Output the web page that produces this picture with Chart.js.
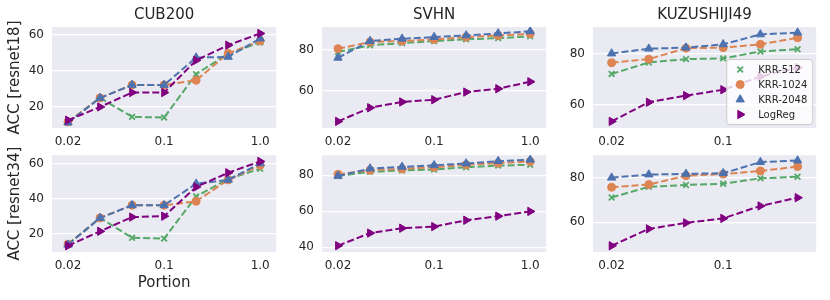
<!DOCTYPE html>
<html><head><meta charset="utf-8">
<script src="https://cdn.jsdelivr.net/npm/chart.js@4/dist/chart.umd.min.js"></script>
<style>
html,body{margin:0;padding:0;background:#fff;}
#wrap{position:relative;width:830px;height:300px;overflow:hidden;background:#fff;}
#wrap canvas{position:absolute;}
</style></head><body><div id="wrap"></div>
<script>
// ---------------- data ----------------
const portions = ['0.02', '0.03', '0.05', '0.1', '0.2', '0.5', '1.0'];
const xTickLabels = ['0.02', '0.1', '1.0'];
const seriesNames = ['KRR-512', 'KRR-1024', 'KRR-2048', 'LogReg'];
const datasetNames = ['CUB200', 'SVHN', 'KUZUSHIJI49'];
const rowLabels = ['ACC [resnet18]', 'ACC [resnet34]'];
const xLabel = 'Portion';

// CUB200
const cub18_krr512  = [11.5, 24.8, 14.3, 13.9, 38.0, 49.4, 55.6];
const cub18_krr1024 = [11.5, 24.8, 32.0, 32.0, 34.6, 49.5, 56.5];
const cub18_krr2048 = [11.1, 24.8, 32.0, 32.0, 47.2, 47.6, 57.8];
const cub18_logreg  = [12.4, 19.8, 27.8, 27.8, 45.7, 54.1, 60.6];
const cub34_krr512  = [14.0, 29.0, 17.6, 17.1, 41.4, 51.4, 57.3];
const cub34_krr1024 = [13.8, 29.0, 36.3, 36.3, 38.6, 50.9, 59.3];
const cub34_krr2048 = [13.6, 29.0, 36.3, 36.3, 48.7, 50.9, 60.4];
const cub34_logreg  = [13.0, 21.3, 29.5, 30.0, 46.8, 55.0, 61.5];
// SVHN
const svhn18_krr512  = [78.9, 82.1, 83.2, 84.2, 85.0, 85.6, 86.5];
const svhn18_krr1024 = [80.5, 83.7, 84.2, 85.0, 86.1, 86.9, 87.7];
const svhn18_krr2048 = [76.1, 84.2, 85.3, 86.1, 86.9, 87.9, 88.9];
const svhn18_logreg  = [45.3, 51.9, 54.7, 55.8, 59.5, 61.1, 64.5];
const svhn34_krr512  = [79.6, 81.9, 82.6, 83.2, 84.4, 85.3, 85.8];
const svhn34_krr1024 = [80.5, 82.8, 83.5, 84.4, 85.8, 86.7, 87.6];
const svhn34_krr2048 = [79.6, 83.7, 84.6, 85.5, 86.5, 87.8, 88.6];
const svhn34_logreg  = [40.9, 47.9, 50.6, 51.5, 55.0, 57.3, 59.9];
// KUZUSHIJI49
const kuz18_krr512  = [72.0, 76.5, 77.8, 78.1, 80.8, 81.7];
const kuz18_krr1024 = [76.4, 77.8, 82.1, 82.3, 83.6, 86.2];
const kuz18_krr2048 = [80.0, 81.9, 82.3, 83.6, 87.5, 88.2];
const kuz18_logreg  = [53.4, 60.9, 63.5, 65.8, 71.0, 74.5];
const kuz34_krr512  = [71.1, 75.9, 76.7, 77.3, 79.7, 80.4];
const kuz34_krr1024 = [75.7, 76.9, 80.9, 81.6, 83.0, 85.0];
const kuz34_krr2048 = [80.0, 81.4, 81.7, 82.0, 87.0, 87.7];
const kuz34_logreg  = [49.4, 57.0, 59.7, 61.7, 67.3, 71.0];

// y tick values per panel
const cubTicks = [20, 40, 60];
const svhn18Ticks = [60, 80];
const svhn34Ticks = [40, 60, 80];
const kuzTicks = [60, 80];

// ---------------- styling / layout ----------------
const FONT = "'DejaVu Sans', sans-serif";
const TEXT = '#262626';
const styles = [
  {color: '#55A868', pointStyle: 'crossRot', radius: 4, bw: 1.8, rot: 0, order: 3},
  {color: '#DD8452', pointStyle: 'circle',   radius: 4, bw: 1,   rot: 0, order: 2},
  {color: '#4C72B0', pointStyle: 'triangle', radius: 4.8, bw: 1, rot: 0, order: 1},
  {color: '#800080', pointStyle: 'triangle', radius: 4.8, bw: 1, rot: 90, order: 0}
];

const cols = [
  {left: 0,   axisW: 52, plotW: 225, nPts: 7},
  {left: 282, axisW: 40, plotW: 225, nPts: 7},
  {left: 553, axisW: 40, plotW: 224, nPts: 6}
];
const rows = [
  {top: 0,   padTop: 27, plotH: 101, axisH: 22},
  {top: 140, padTop: 10, plotH: 102, axisH: 48}
];

const panels = [
  {r:0, c:0, data:[cub18_krr512, cub18_krr1024, cub18_krr2048, cub18_logreg], min:8.1, max:64.2, ticks:cubTicks},
  {r:0, c:1, data:[svhn18_krr512, svhn18_krr1024, svhn18_krr2048, svhn18_logreg], min:42.1, max:91.0, ticks:svhn18Ticks},
  {r:0, c:2, data:[kuz18_krr512, kuz18_krr1024, kuz18_krr2048, kuz18_logreg], min:50.8, max:90.4, ticks:kuzTicks, legend:true},
  {r:1, c:0, data:[cub34_krr512, cub34_krr1024, cub34_krr2048, cub34_logreg], min:9.4, max:65.1, ticks:cubTicks},
  {r:1, c:1, data:[svhn34_krr512, svhn34_krr1024, svhn34_krr2048, svhn34_logreg], min:37.4, max:91.1, ticks:svhn34Ticks},
  {r:1, c:2, data:[kuz34_krr512, kuz34_krr1024, kuz34_krr2048, kuz34_logreg], min:46.6, max:90.1, ticks:kuzTicks}
];

const bgPlugin = {
  id: 'bg',
  beforeDraw(chart) {
    const a = chart.chartArea, ctx = chart.ctx;
    ctx.save(); ctx.fillStyle = '#EAEAF2';
    ctx.fillRect(a.left, a.top, a.right - a.left, a.bottom - a.top);
    ctx.restore();
  }
};

const titlePlugin = {
  id: 'ptitle',
  afterDraw(chart, args, opts) {
    if (!opts || !opts.text) return;
    const a = chart.chartArea, ctx = chart.ctx;
    ctx.save();
    ctx.font = '15px ' + FONT; ctx.fillStyle = TEXT;
    ctx.textAlign = 'center'; ctx.textBaseline = 'middle';
    ctx.fillText(opts.text, (a.left + a.right) / 2, 15);
    ctx.restore();
  }
};

const legendPlugin = {
  id: 'plegend',
  afterDraw(chart, args, opts) {
    if (!opts || !opts.show) return;
    const a = chart.chartArea, ctx = chart.ctx;
    const w = 86, h = 65;
    const x0 = a.right - 4 - w, y0 = a.bottom - 4 - h;
    ctx.save();
    ctx.beginPath();
    if (ctx.roundRect) ctx.roundRect(x0 + 0.5, y0 + 0.5, w, h, 3); else ctx.rect(x0 + 0.5, y0 + 0.5, w, h);
    ctx.fillStyle = 'rgba(234,234,242,0.8)';
    ctx.fillStyle = 'rgba(255,255,255,0.8)';
    ctx.fill();
    ctx.strokeStyle = '#cccccc'; ctx.lineWidth = 1; ctx.stroke();
    ctx.font = '10px ' + FONT; ctx.textAlign = 'left'; ctx.textBaseline = 'middle';
    seriesNames.forEach((name, i) => {
      const s = styles[i];
      const cy = y0 + 10.5 + i * 15;
      ctx.fillStyle = s.color; ctx.strokeStyle = s.color; ctx.lineWidth = s.bw;
      Chart.helpers.drawPoint(ctx, {pointStyle: s.pointStyle, radius: s.radius, rotation: s.rot, borderWidth: s.bw}, x0 + 14, cy);
      ctx.fillStyle = TEXT;
      ctx.fillText(name, x0 + 32, cy + 0.5);
    });
    ctx.restore();
  }
};

const wrap = document.getElementById('wrap');
panels.forEach(p => {
  const col = cols[p.c], row = rows[p.r];
  const padRight = 5;
  const W = col.axisW + col.plotW + padRight;
  const H = row.padTop + row.plotH + row.axisH;
  const cv = document.createElement('canvas');
  cv.width = W; cv.height = H;
  cv.style.left = col.left + 'px'; cv.style.top = row.top + 'px';
  cv.style.width = W + 'px'; cv.style.height = H + 'px';
  wrap.appendChild(cv);
  const labels = portions.slice(0, col.nPts);
  new Chart(cv, {
    type: 'line',
    data: {
      labels: labels,
      datasets: seriesNames.map((name, i) => ({
        label: name,
        data: p.data[i],
        borderColor: styles[i].color,
        backgroundColor: styles[i].color,
        borderWidth: 2,
        borderDash: [7, 3],
        pointStyle: styles[i].pointStyle,
        pointRadius: styles[i].radius,
        pointBorderWidth: styles[i].bw,
        pointRotation: styles[i].rot,
        pointBackgroundColor: styles[i].color,
        pointBorderColor: styles[i].color,
        fill: false,
        tension: 0,
        order: styles[i].order
      }))
    },
    options: {
      responsive: false,
      animation: false,
      devicePixelRatio: 1,
      layout: {padding: {top: row.padTop, right: padRight, left: 0, bottom: 0}},
      plugins: {
        legend: {display: false},
        tooltip: {enabled: false},
        ptitle: {text: p.r === 0 ? datasetNames[p.c] : ''},
        plegend: {show: !!p.legend}
      },
      scales: {
        x: {
          type: 'category',
          offset: true,
          grid: {display: false, drawTicks: false},
          border: {display: false},
          ticks: {
            autoSkip: false, maxRotation: 0, padding: 7, color: TEXT,
            font: {family: FONT, size: 12},
            callback: function (v) { const l = this.getLabelForValue(v); return xTickLabels.includes(l) ? l : ''; }
          },
          title: {display: p.r === 1 && p.c === 0, text: xLabel, color: TEXT, font: {family: FONT, size: 15}, padding: {top: 0, bottom: 8}},
          afterFit: s => { s.height = row.axisH; }
        },
        y: {
          min: p.min, max: p.max,
          grid: {color: '#ffffff', lineWidth: 1.2, drawTicks: false},
          border: {display: false},
          ticks: {padding: 8, color: TEXT, font: {family: FONT, size: 12}},
          afterBuildTicks: s => { s.ticks = p.ticks.map(v => ({value: v})); },
          title: {display: p.c === 0, text: rowLabels[p.r], color: TEXT, font: {family: FONT, size: 15}, padding: {top: 6, bottom: 0}},
          afterFit: s => { s.width = col.axisW; }
        }
      }
    },
    plugins: [bgPlugin, titlePlugin, legendPlugin]
  });
});
</script>
</body></html>
